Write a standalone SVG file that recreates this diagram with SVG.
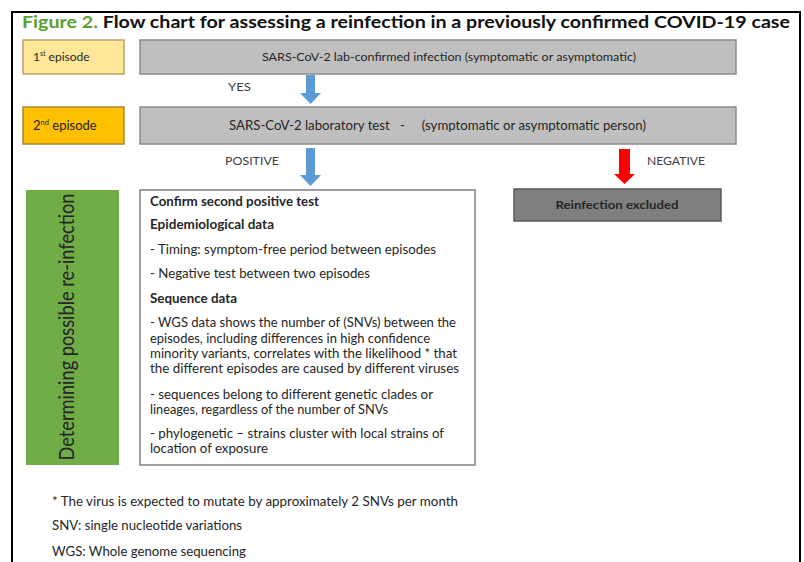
<svg xmlns="http://www.w3.org/2000/svg" width="804" height="562" viewBox="0 0 804 562">
<style>
.t{font-family:Lato,"Liberation Sans",sans-serif;fill:#262626}
.b{font-weight:bold}
.c{font-size:12.5px}
.lbl{font-size:11.5px;fill:#404040}
.gray{fill:#bfbfbf;stroke:#8c8c8c;stroke-width:1.5}
.blue{fill:#5b9bd5}
.red{fill:#ff0000}
.foot{font-family:Lato,"Liberation Sans",sans-serif;font-size:12.5px;fill:#262626}
</style>
<rect x="0" y="0" width="804" height="562" fill="#ffffff"/>
<rect x="12" y="12" width="788" height="570" fill="none" stroke="#000000" stroke-width="2"/>
<text x="22" y="28" class="t b" font-size="17.5" textLength="768" lengthAdjust="spacingAndGlyphs"><tspan fill="#5aa02c">Figure 2.</tspan><tspan fill="#111111"> Flow chart for assessing a reinfection in a previously confirmed COVID-19 case</tspan></text>

<g id="ep1">
<rect x="23" y="40" width="101" height="34" fill="#ffe699" stroke="#b9a36a" stroke-width="1.5"/>
<text x="33" y="61" class="t" font-size="12">1<tspan font-size="7" dy="-5">st</tspan><tspan dy="5"> episode</tspan></text>
</g>
<g id="infection">
<rect x="140" y="40" width="596" height="34" class="gray"/>
<text x="262" y="61" class="t" font-size="12" textLength="374" lengthAdjust="spacingAndGlyphs">SARS-CoV-2 lab-confirmed infection (symptomatic or asymptomatic)</text>
</g>
<g id="ep2">
<rect x="23" y="107" width="101" height="37" fill="#ffc000" stroke="#a8873a" stroke-width="1.5"/>
<text x="33" y="130" class="t" font-size="13">2<tspan font-size="7.5" dy="-5">nd</tspan><tspan dy="5"> episode</tspan></text>
</g>
<g id="labtest">
<rect x="140" y="107" width="596" height="37" class="gray"/>
<text x="229" y="130" class="t" font-size="13" xml:space="preserve" textLength="417" lengthAdjust="spacingAndGlyphs">SARS-CoV-2 laboratory test   -     (symptomatic or asymptomatic person)</text>
</g>
<g id="excluded">
<rect x="514" y="189" width="207" height="32" fill="#7f7f7f" stroke="#5a5a5a" stroke-width="1.5"/>
<text x="617" y="209" class="t b" font-size="12" text-anchor="middle" fill="#1a1a1a" textLength="123" lengthAdjust="spacingAndGlyphs">Reinfection excluded</text>
</g>
<g id="determining">
<rect x="26" y="190" width="93" height="275" fill="#70ad47"/>
<text transform="translate(74,327) rotate(-90)" class="t" font-size="21" text-anchor="middle" fill="#1a1a1a" textLength="267" lengthAdjust="spacingAndGlyphs">Determining possible re-infection</text>
</g>
<g id="criteria">
<rect x="140" y="190" width="335" height="275" fill="#ffffff" stroke="#808080" stroke-width="1.5"/>
<text x="150" y="206" class="t c b" textLength="169" lengthAdjust="spacingAndGlyphs">Confirm second positive test</text>
<text x="150" y="229" class="t c b" textLength="124" lengthAdjust="spacingAndGlyphs">Epidemiological data</text>
<text x="150" y="254" class="t c" textLength="286" lengthAdjust="spacingAndGlyphs">- Timing: symptom-free period between episodes</text>
<text x="150" y="278" class="t c" textLength="220" lengthAdjust="spacingAndGlyphs">- Negative test between two episodes</text>
<text x="150" y="303" class="t c b" textLength="87" lengthAdjust="spacingAndGlyphs">Sequence data</text>
<text x="150" y="327" class="t c" textLength="306" lengthAdjust="spacingAndGlyphs">- WGS data shows the number of (SNVs) between the</text>
<text x="150" y="343" class="t c" textLength="280" lengthAdjust="spacingAndGlyphs">episodes, including differences in high confidence</text>
<text x="150" y="358" class="t c" textLength="307" lengthAdjust="spacingAndGlyphs">minority variants, correlates with the likelihood * that</text>
<text x="150" y="373" class="t c" textLength="309" lengthAdjust="spacingAndGlyphs">the different episodes are caused by different viruses</text>
<text x="150" y="399" class="t c" textLength="283" lengthAdjust="spacingAndGlyphs">- sequences belong to different genetic clades or</text>
<text x="150" y="414" class="t c" textLength="238" lengthAdjust="spacingAndGlyphs">lineages, regardless of the number of SNVs</text>
<text x="150" y="438" class="t c" textLength="294" lengthAdjust="spacingAndGlyphs">- phylogenetic – strains cluster with local strains of</text>
<text x="150" y="453" class="t c" textLength="118" lengthAdjust="spacingAndGlyphs">location of exposure</text>
</g>
<g id="connectors">
<polygon class="blue" points="306,75 315,75 315,93 321,93 310.5,104 300,93 306,93"/>
<polygon class="blue" points="306,148 315,148 315,175 321,175 310.5,186 300,175 306,175"/>
<polygon class="red" points="619,149 630,149 630,174 635,174 624.5,184 614,174 619,174"/>
<text x="228" y="91" class="t lbl" textLength="23" lengthAdjust="spacingAndGlyphs">YES</text>
<text x="225" y="165" class="t lbl" textLength="54" lengthAdjust="spacingAndGlyphs">POSITIVE</text>
<text x="647" y="165" class="t lbl" textLength="58" lengthAdjust="spacingAndGlyphs">NEGATIVE</text>
</g>
<text x="52" y="506" class="foot" textLength="406" lengthAdjust="spacingAndGlyphs">* The virus is expected to mutate by approximately 2 SNVs per month</text>
<text x="52" y="530" class="foot" textLength="190" lengthAdjust="spacingAndGlyphs">SNV: single nucleotide variations</text>
<text x="52" y="556" class="foot" textLength="194" lengthAdjust="spacingAndGlyphs">WGS: Whole genome sequencing</text>
</svg>
